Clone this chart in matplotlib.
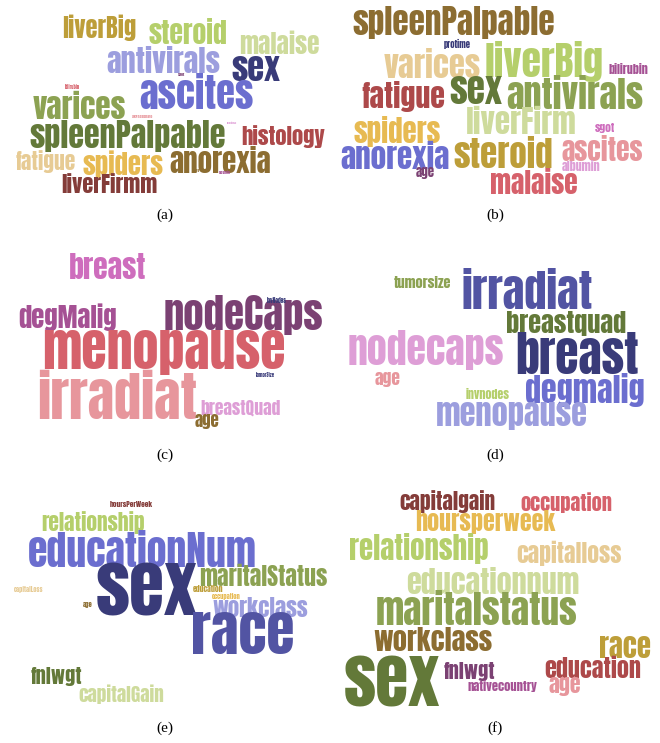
import matplotlib
matplotlib.use("Agg")
import matplotlib.pyplot as plt
from matplotlib.font_manager import FontProperties
from matplotlib.textpath import TextPath

# words of each cloud, with the colour each one got
words_a = ["liverBig", "steroid", "malaise", "antivirals", "sex", "ascites", "varices",
           "spleenPalpable", "histology", "fatigue", "spiders", "anorexia", "liverFirmm",
           "bilirubin", "sgot", "alkPhosphate", "protime", "age", "albumin"]
colors_a = ["#bd9e39", "#b5cf6b", "#cedb9c", "#9c9ede", "#393b79", "#6b6ecf", "#8ca252",
            "#637939", "#ad494a", "#e7cb94", "#e7ba52", "#8c6d31", "#843c39",
            "#d6616b", "#7b4173", "#e7969c", "#de9ed6", "#8c6d31", "#a55194"]

words_b = ["spleenPalpable", "protime", "varices", "liverBig", "bilirubin", "fatigue", "sex",
           "antivirals", "liverFirm", "spiders", "sgot", "anorexia", "steroid", "ascites",
           "albumin", "age", "malaise"]
colors_b = ["#8c6d31", "#393b79", "#e7cb94", "#b5cf6b", "#a55194", "#ad494a", "#637939",
            "#8ca252", "#cedb9c", "#e7ba52", "#ce6dbd", "#6b6ecf", "#bd9e39", "#e7969c",
            "#de9ed6", "#7b4173", "#d6616b"]

words_c = ["breast", "degMalig", "nodeCaps", "invNodes", "menopause", "tumorSize",
           "irradiat", "breastQuad", "age"]
colors_c = ["#ce6dbd", "#a55194", "#7b4173", "#393b79", "#d6616b", "#393b79",
            "#e7969c", "#de9ed6", "#8c6d31"]

words_d = ["tumorsize", "irradiat", "breastquad", "nodecaps", "breast", "age",
           "invnodes", "degmalig", "menopause"]
colors_d = ["#8ca252", "#5254a3", "#637939", "#de9ed6", "#393b79", "#e7969c",
            "#b5cf6b", "#6b6ecf", "#9c9ede"]

words_e = ["hoursPerWeek", "relationship", "educationNum", "sex", "maritalStatus",
           "capitalLoss", "education", "occupation", "age", "workclass", "race",
           "fnlwgt", "capitalGain"]
colors_e = ["#843c39", "#b5cf6b", "#6b6ecf", "#393b79", "#8ca252",
            "#e7cb94", "#bd9e39", "#e7ba52", "#8c6d31", "#9c9ede", "#5254a3",
            "#637939", "#cedb9c"]

words_f = ["capitalgain", "occupation", "hoursperweek", "relationship", "capitalloss",
           "educationnum", "maritalstatus", "workclass", "race", "sex", "fnlwgt",
           "education", "nativecountry", "age"]
colors_f = ["#843c39", "#d6616b", "#e7ba52", "#b5cf6b", "#e7cb94",
            "#cedb9c", "#8ca252", "#8c6d31", "#bd9e39", "#637939", "#7b4173",
            "#ad494a", "#a55194", "#e7969c"]

panel_labels = ["(a)", "(b)", "(c)", "(d)", "(e)", "(f)"]

# layout: word boxes (x0, x1, y0, y1) in figure pixels, one per word
boxes_a = [(55, 143, 17, 40), (145, 230, 20, 43), (233, 325, 32, 53), (97, 230, 47, 72),
           (232, 280, 55, 82), (135, 257, 75, 107), (27, 132, 92, 118), (20, 235, 122, 150),
           (242, 325, 125, 148), (13, 77, 152, 172), (80, 167, 152, 177), (170, 270, 147, 172),
           (62, 157, 173, 193), (65, 80, 85, 89), (178, 185, 73, 77), (132, 153, 115, 119),
           (225, 238, 121, 124), (195, 200, 169, 172), (218, 232, 171, 174)]
boxes_b = [(335, 573, 8, 37), (437, 477, 41, 49), (380, 485, 50, 77), (485, 603, 43, 80),
           (607, 650, 63, 73), (358, 448, 82, 110), (450, 502, 77, 103), (503, 647, 77, 107),
           (455, 588, 107, 133), (343, 452, 118, 145), (592, 618, 123, 133), (340, 450, 142, 168),
           (453, 553, 138, 167), (557, 648, 137, 160), (560, 602, 160, 170), (415, 435, 168, 178),
           (487, 582, 170, 193)]
boxes_c = [(68, 147, 255, 278), (13, 122, 305, 330), (160, 327, 297, 333), (267, 287, 298, 303),
           (37, 292, 333, 373), (255, 277, 373, 377), (35, 200, 372, 417), (200, 282, 400, 415),
           (193, 220, 415, 428)]
boxes_d = [(393, 453, 275, 287), (457, 597, 270, 307), (500, 633, 312, 335), (335, 517, 333, 368),
           (517, 638, 335, 373), (375, 400, 373, 387), (462, 513, 388, 398), (520, 650, 375, 405),
           (437, 587, 403, 428)]
boxes_e = [(110, 153, 501, 507), (37, 150, 512, 532), (27, 257, 532, 565), (97, 197, 565, 613),
           (200, 327, 565, 585), (12, 45, 586, 592), (193, 223, 585, 592), (210, 243, 593, 599),
           (83, 93, 603, 608), (213, 308, 597, 617), (193, 293, 613, 653), (27, 85, 667, 685),
           (68, 175, 685, 703)]
boxes_f = [(390, 505, 492, 512), (515, 618, 493, 512), (408, 563, 512, 533), (335, 503, 535, 562),
           (510, 627, 543, 565), (400, 585, 568, 593), (373, 580, 592, 623), (373, 493, 628, 650),
           (600, 650, 637, 657), (345, 440, 657, 707), (443, 495, 662, 680), (543, 642, 657, 677),
           (468, 537, 680, 692), (548, 582, 678, 695)]
label_pos = [(165, 215), (495, 215), (165, 455), (495, 455), (165, 728), (495, 728)]

W, H = 660, 743
DPI = 100
fig = plt.figure(figsize=(W / DPI, H / DPI), dpi=DPI)
ax = fig.add_axes([0, 0, 1, 1])
ax.set_xlim(0, W)
ax.set_ylim(H, 0)
ax.axis("off")

word_font = ["Anton", "Oswald", "DejaVu Sans"]
fp = FontProperties(family=word_font, weight="normal")

panels = [(words_a, colors_a, boxes_a), (words_b, colors_b, boxes_b),
          (words_c, colors_c, boxes_c), (words_d, colors_d, boxes_d),
          (words_e, colors_e, boxes_e), (words_f, colors_f, boxes_f)]

for words, colors, boxes in panels:
    for w, c, (x0, x1, y0, y1) in zip(words, colors, boxes):
        # measure the ink of the word at 100 px, then scale it into its box
        ext = TextPath((0, 0), w, size=100, prop=fp).get_extents()
        k = min((x1 - x0) / ext.width, 1.12 * (y1 - y0) / ext.height)
        cx = (x0 + x1) / 2
        base_y = (y0 + y1) / 2 + (ext.y0 + ext.y1) / 2 * k
        ax.text(cx - (ext.x0 + ext.x1) / 2 * k, base_y, w, color=c, fontproperties=fp,
                fontsize=100 * k * 72 / DPI, ha="left", va="baseline")

for lab, (x, y) in zip(panel_labels, label_pos):
    ax.text(x, y, lab, family="Liberation Serif", fontsize=11, ha="center", va="center")

fig.savefig("out.png", dpi=DPI)
